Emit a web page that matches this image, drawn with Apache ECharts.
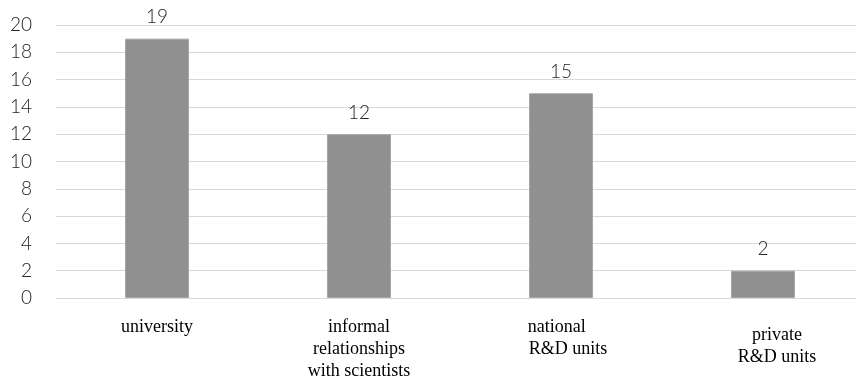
<!DOCTYPE html>
<html>
<head>
<meta charset="utf-8">
<script src="https://cdn.jsdelivr.net/npm/echarts@6/dist/echarts.min.js"></script>
<style>
  html, body { margin: 0; padding: 0; background: #fff; overflow: hidden; }
  #chart { width: 864px; height: 384px; }
</style>
</head>
<body>
<div id="chart"></div>
<script>
// Sources of knowledge: number of responses per source
const categories = [
  'university',
  'informal\nrelationships\nwith scientists',
  'national     \nR&D units',
  'private\nR&D units'
];
const counts = [19, 12, 15, 2];
const yTicks = { min: 0, max: 20, interval: 2 };

const chart = echarts.init(document.getElementById('chart'));

// per-label nudges for the two "R&D units" categories
const labelPadding = [null, null, [0, 0, 0, 14], [8, 0, 0, 28]];
const catData = categories.map((c, i) =>
  labelPadding[i] ? { value: c, textStyle: { padding: labelPadding[i] } } : c
);

chart.setOption({
  animation: false,
  grid: { left: 56, right: 0, top: 25, bottom: 86, containLabel: false },
  xAxis: {
    type: 'category',
    data: catData,
    axisLine: { show: true, lineStyle: { color: '#d9d9d9', width: 1 } },
    axisTick: { show: false },
    axisLabel: {
      interval: 0,
      margin: 18,
      fontFamily: 'Liberation Serif',
      fontSize: 18,
      lineHeight: 22,
      color: '#000'
    }
  },
  yAxis: {
    type: 'value',
    min: yTicks.min,
    max: yTicks.max,
    interval: yTicks.interval,
    axisLine: { show: false },
    axisTick: { show: false },
    splitLine: { lineStyle: { color: '#d9d9d9', width: 1 } },
    axisLabel: {
      margin: 24,
      fontFamily: 'Lato',
      fontWeight: 300,
      fontSize: 19,
      color: '#222'
    }
  },
  series: [{
    type: 'bar',
    data: counts,
    barWidth: 64,
    itemStyle: { color: '#909090', borderColor: '#a6a6a6', borderWidth: 1 },
    label: {
      show: true,
      position: 'top',
      distance: 12,
      fontFamily: 'Lato',
      fontWeight: 300,
      fontSize: 19,
      color: '#222'
    }
  }]
});
</script>
</body>
</html>
